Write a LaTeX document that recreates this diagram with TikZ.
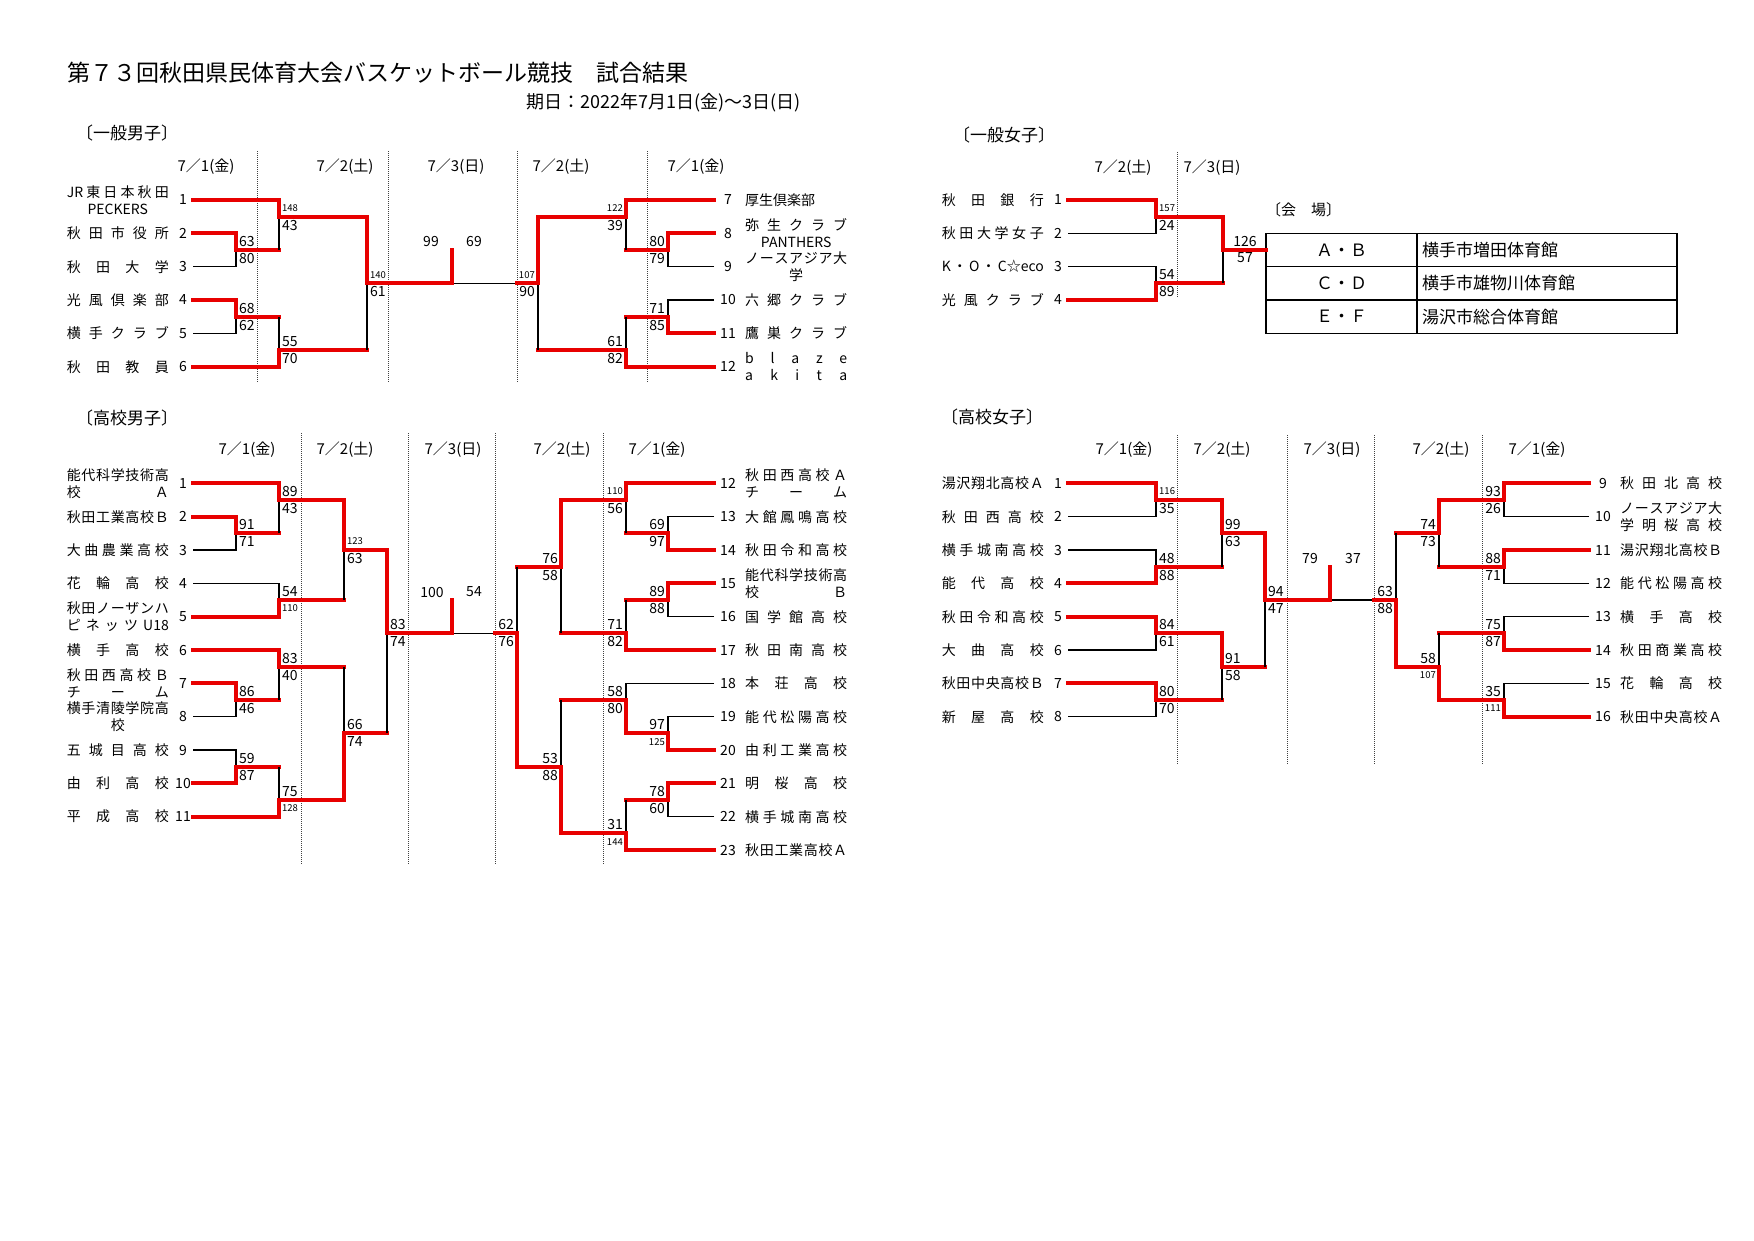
\documentclass[tikz,border=0pt]{standalone}
\usepackage{fontspec}
\setmainfont{Noto Sans CJK JP}
\usepackage{xcolor}
\usepackage{tikz}
\usetikzlibrary{positioning}
\definecolor{bracketred}{RGB}{232,0,0}
\newlength\namew
\setlength\namew{102pt}
% spread the letters of a name over the name column
\def\sprend{\sprend}
\newcommand\spr[1]{\sprA#1\sprend}
\def\sprA#1{#1\sprB}
\def\sprB#1{\def\sprtmp{#1}\ifx\sprtmp\sprend\else\hfill#1\expandafter\sprB\fi}
\newcommand\dl[1]{\makebox[\namew][s]{\spr{#1}}}
\newcommand\cl[1]{\makebox[\namew]{#1}}
\newcommand\sm[1]{{\fontsize{9.5}{10}\selectfont#1}}
\tikzset{
	teamname/.style={font=\fontsize{14}{17}\selectfont, inner sep=0pt, align=center},
	seed/.style={font=\fontsize{14}{14}\selectfont, inner sep=0pt},
	score/.style={font=\fontsize{14}{14}\selectfont, inner sep=0pt},
	dayhead/.style={font=\fontsize{15}{15}\selectfont, inner sep=0pt},
	section/.style={font=\fontsize{17}{17}\selectfont, inner sep=0pt, anchor=west},
	win/.style={draw=bracketred, line width=3.8pt, line cap=rect},
	lose/.style={draw=black, line width=1.3pt},
	daysep/.style={draw=black!75, line width=1pt, dash pattern=on 1pt off 1pt},
	venuekey/.style={draw, line width=1.5pt, minimum width=151pt, minimum height=33.33pt, inner sep=0pt, outer sep=0pt, font=\fontsize{17}{17}\selectfont},
	venuename/.style={draw, line width=1.5pt, minimum height=33.33pt, text width=250pt, inner xsep=5pt, inner ysep=0pt, outer sep=0pt, align=left, font=\fontsize{17}{17}\selectfont}
}
% team: id, seed x, y, seed, label
\newcommand\teamL[5]{\coordinate (#1) at (#2+10,#3);
	\node[seed] (#1s) at (#2,#3) {#4};
	\node[teamname, anchor=east] (#1n) at (#2-14,#3) {#5};}
\newcommand\teamR[5]{\coordinate (#1) at (#2-14,#3);
	\node[seed] (#1s) at (#2,#3) {#4};
	\node[teamname, anchor=west] (#1n) at (#2+17,#3) {#5};}
% bracket lines
\newcommand\won[2]{\draw[win] (#1) -| (#2);}
\newcommand\lost[2]{\draw[lose] (#1) -| (#2);}
\newcommand\lostm[2]{\draw[win] (#1) -- (#1 -| #2); \draw[lose] (#1 -| #2) -- (#2);}
% scores: match, upper, lower
\newcommand\scL[3]{\node[score, anchor=west] (#1u) at ([shift={(3pt,8.5pt)}]#1) {#2};
	\node[score, anchor=west] (#1d) at ([shift={(3pt,-8.5pt)}]#1) {#3};}
\newcommand\scR[3]{\node[score, anchor=east] (#1u) at ([shift={(-3pt,8.5pt)}]#1) {#2};
	\node[score, anchor=east] (#1d) at ([shift={(-3pt,-8.5pt)}]#1) {#3};}

\begin{document}
\begin{tikzpicture}[x=1pt, y=-1pt]
	\useasboundingbox (0,0) rectangle (1754,1240);
	
	\node[anchor=west, inner sep=0pt, font=\fontsize{23}{23}\selectfont] (title) at (67,73) {第７３回秋田県民体育大会バスケットボール競技　試合結果};
	\node[anchor=west, inner sep=0pt, font=\fontsize{18}{18}\selectfont] (period) at (526,103) {期日：2022年7月1日(金)～3日(日)};
	
	% 一般男子
	\node[section] (gmtitle) at (76,133) {〔一般男子〕};
	\foreach \x [count=\i] in {257,388,517,647} {\draw[daysep] (\x,151) coordinate (gmd\i) -- (\x,382);}
	\foreach \x/\dlab [count=\i] in {206/1(金),345/2(土),456/3(日),561/2(土),696/1(金)}
		\node[dayhead] (gmh\i) at (\x,167) {7／\dlab};
	\teamL{gm1}{183}{200}{1}{\dl{{JR}東日本秋田}\\\cl{PECKERS}}
	\teamL{gm2}{183}{233.3}{2}{\dl{秋田市役所}}
	\teamL{gm3}{183}{266.7}{3}{\dl{秋田大学}}
	\teamL{gm4}{183}{300}{4}{\dl{光風倶楽部}}
	\teamL{gm5}{183}{333.3}{5}{\dl{横手クラブ}}
	\teamL{gm6}{183}{366.7}{6}{\dl{秋田教員}}
	\teamR{gm7}{728}{200}{7}{\makebox[\namew][l]{厚生倶楽部}}
	\teamR{gm8}{728}{233.3}{8}{\dl{弥生クラブ}\\\cl{PANTHERS}}
	\teamR{gm9}{728}{266.7}{9}{\dl{ノースアジア大}\\\cl{学}}
	\teamR{gm10}{728}{300}{10}{\dl{六郷クラブ}}
	\teamR{gm11}{728}{333.3}{11}{\dl{鷹巣クラブ}}
	\teamR{gm12}{728}{366.7}{12}{\dl{blaze}\\\dl{akita}}
	\coordinate (gmA) at (236,250);
	\coordinate (gmB) at (236,316.7);
	\coordinate (gmC) at (279,216.7);
	\coordinate (gmD) at (279,350);
	\coordinate (gmE) at (367,283.3);
	\coordinate (gmF) at (668,250);
	\coordinate (gmG) at (668,316.7);
	\coordinate (gmH) at (626,216.7);
	\coordinate (gmI) at (626,350);
	\coordinate (gmJ) at (538,283.3);
	\coordinate (gmK) at (452,283.3);
	\coordinate (gmKt) at (452,250);
	\lost{gm3}{gmA} \lost{gm5}{gmB} \lostm{gmA}{gmC} \lostm{gmB}{gmD} \lostm{gmD}{gmE}
	\lost{gm9}{gmF} \lost{gm10}{gmG} \lostm{gmF}{gmH} \lostm{gmG}{gmI} \lostm{gmI}{gmJ}
	\draw[lose] (gmK) -- (gmJ);
	\won{gm2}{gmA} \won{gm4}{gmB} \won{gm1}{gmC} \won{gm6}{gmD} \won{gmC}{gmE}
	\won{gm8}{gmF} \won{gm11}{gmG} \won{gm7}{gmH} \won{gm12}{gmI} \won{gmH}{gmJ}
	\draw[win] (gmE) -- (gmK) -- (gmKt);
	\draw[win] (gmJ) -- (gmJ -| gmd3);
	\scL{gmA}{63}{80} \scL{gmB}{68}{62} \scL{gmC}{\sm{148}}{43} \scL{gmD}{55}{70} \scL{gmE}{\sm{140}}{61}
	\scR{gmF}{80}{79} \scR{gmG}{71}{85} \scR{gmH}{\sm{122}}{39} \scR{gmI}{61}{82} \scR{gmJ}{\sm{107}}{90}
	\node[score] (gmKa) at (431,242) {99};
	\node[score] (gmKb) at (474,242) {69};
	
	% 一般女子
	\node[section] (gwtitle) at (953,135) {〔一般女子〕};
	\draw[daysep] (1177,152) coordinate (gwd1) -- (1177,298);
	\node[dayhead] (gwh1) at (1123,168) {7／2(土)};
	\node[dayhead] (gwh2) at (1212,168) {7／3(日)};
	\teamL{gw1}{1058}{200}{1}{\dl{秋田銀行}}
	\teamL{gw2}{1058}{233.3}{2}{\dl{秋田大学女子}}
	\teamL{gw3}{1058}{266.7}{3}{\makebox[\namew][s]{K\hfill・\hfill O\hfill・\hfill C☆eco}}
	\teamL{gw4}{1058}{300}{4}{\dl{光風クラブ}}
	\coordinate (gwA) at (1156,216.7);
	\coordinate (gwB) at (1156,283.3);
	\coordinate (gwC) at (1223,250);
	
	% 会場
	\node[anchor=west, inner sep=0pt, font=\fontsize{15}{15}\selectfont] (venuetitle) at (1266,210) {〔会　場〕};
	\node[venuekey] (vab) at (1341.5,250) {Ａ・Ｂ};
	\node[venuekey, below=0pt of vab] (vcd) {Ｃ・Ｄ};
	\node[venuekey, below=0pt of vcd] (vef) {Ｅ・Ｆ};
	\node[venuename, right=0pt of vab] (vabn) {横手市増田体育館};
	\node[venuename, right=0pt of vcd] (vcdn) {横手市雄物川体育館};
	\node[venuename, right=0pt of vef] (vefn) {湯沢市総合体育館};
	
	\lost{gw2}{gwA} \lost{gw3}{gwB} \lostm{gwB}{gwC}
	\won{gw1}{gwA} \won{gw4}{gwB} \won{gwA}{gwC}
	\draw[win] (gwC) -- (vab.west);
	\scL{gwA}{\sm{157}}{24} \scL{gwB}{54}{89}
	\node[score] (gwCa) at (1245,242) {126};
	\node[score] (gwCb) at (1245,258) {57};
	
	% 高校男子
	\node[section] (hmtitle) at (76,418) {〔高校男子〕};
	\foreach \x [count=\i] in {301,408,495,603} {\draw[daysep] (\x,433) coordinate (hmd\i) -- (\x,865);}
	\foreach \x/\dlab [count=\i] in {247/1(金),345/2(土),453/3(日),562/2(土),657/1(金)}
		\node[dayhead] (hmh\i) at (\x,450) {7／\dlab};
	\teamL{hm1}{183}{483.3}{1}{\dl{能代科学技術高}\\\dl{校Ａ}}
	\teamL{hm2}{183}{516.7}{2}{\dl{秋田工業高校Ｂ}}
	\teamL{hm3}{183}{550}{3}{\dl{大曲農業高校}}
	\teamL{hm4}{183}{583.3}{4}{\dl{花輪高校}}
	\teamL{hm5}{183}{616.7}{5}{\dl{秋田ノーザンハ}\\\dl{ピネッツ{U18}}}
	\teamL{hm6}{183}{650}{6}{\dl{横手高校}}
	\teamL{hm7}{183}{683.3}{7}{\dl{秋田西高校Ｂ}\\\dl{チーム}}
	\teamL{hm8}{183}{716.7}{8}{\dl{横手清陵学院高}\\\cl{校}}
	\teamL{hm9}{183}{750}{9}{\dl{五城目高校}}
	\teamL{hm10}{183}{783.3}{10}{\dl{由利高校}}
	\teamL{hm11}{183}{816.7}{11}{\dl{平成高校}}
	\teamR{hm12}{728}{483.3}{12}{\dl{秋田西高校Ａ}\\\dl{チーム}}
	\teamR{hm13}{728}{516.7}{13}{\dl{大館鳳鳴高校}}
	\teamR{hm14}{728}{550}{14}{\dl{秋田令和高校}}
	\teamR{hm15}{728}{583.3}{15}{\dl{能代科学技術高}\\\dl{校Ｂ}}
	\teamR{hm16}{728}{616.7}{16}{\dl{国学館高校}}
	\teamR{hm17}{728}{650}{17}{\dl{秋田南高校}}
	\teamR{hm18}{728}{683.3}{18}{\dl{本荘高校}}
	\teamR{hm19}{728}{716.7}{19}{\dl{能代松陽高校}}
	\teamR{hm20}{728}{750}{20}{\dl{由利工業高校}}
	\teamR{hm21}{728}{783.3}{21}{\dl{明桜高校}}
	\teamR{hm22}{728}{816.7}{22}{\dl{横手城南高校}}
	\teamR{hm23}{728}{850}{23}{\dl{秋田工業高校Ａ}}
	\coordinate (hmA) at (236,533.3);
	\coordinate (hmB) at (279,500);
	\coordinate (hmC) at (279,600);
	\coordinate (hmD) at (344,550);
	\coordinate (hmE) at (236,700);
	\coordinate (hmF) at (279,666.7);
	\coordinate (hmG) at (236,766.7);
	\coordinate (hmH) at (279,800);
	\coordinate (hmI) at (344,733.3);
	\coordinate (hmJ) at (387,633.3);
	\coordinate (hmK) at (668,533.3);
	\coordinate (hmL) at (626,500);
	\coordinate (hmM) at (668,600);
	\coordinate (hmN) at (626,633.3);
	\coordinate (hmO) at (561,566.7);
	\coordinate (hmP) at (668,733.3);
	\coordinate (hmQ) at (626,700);
	\coordinate (hmR) at (668,800);
	\coordinate (hmS) at (626,833.3);
	\coordinate (hmU) at (561,766.7);
	\coordinate (hmV) at (517,633.3);
	\coordinate (hmW) at (452,633.3);
	\coordinate (hmWt) at (452,600);
	\lost{hm3}{hmA} \lostm{hmA}{hmB} \lost{hm4}{hmC} \lostm{hmC}{hmD} \lost{hm8}{hmE} \lostm{hmE}{hmF}
	\lost{hm9}{hmG} \lostm{hmG}{hmH} \lostm{hmF}{hmI} \lostm{hmI}{hmJ}
	\lost{hm13}{hmK} \lostm{hmK}{hmL} \lost{hm16}{hmM} \lostm{hmM}{hmN} \lostm{hmN}{hmO}
	\lost{hm19}{hmP} \lost{hm18}{hmQ} \lost{hm22}{hmR} \lostm{hmR}{hmS} \lostm{hmQ}{hmU} \lostm{hmO}{hmV}
	\draw[lose] (hmW) -- (hmV);
	\won{hm2}{hmA} \won{hm1}{hmB} \won{hm5}{hmC} \won{hmB}{hmD} \won{hm7}{hmE} \won{hm6}{hmF}
	\won{hm10}{hmG} \won{hm11}{hmH} \won{hmH}{hmI} \won{hmD}{hmJ}
	\won{hm14}{hmK} \won{hm12}{hmL} \won{hm15}{hmM} \won{hm17}{hmN} \won{hmL}{hmO}
	\won{hm20}{hmP} \won{hmP}{hmQ} \won{hm21}{hmR} \won{hm23}{hmS} \won{hmS}{hmU} \won{hmU}{hmV}
	\draw[win] (hmJ) -- (hmW) -- (hmWt);
	\draw[win] (hmV) -- (hmV -| hmd3);
	\scL{hmA}{91}{71} \scL{hmB}{89}{43} \scL{hmC}{54}{\sm{110}} \scL{hmD}{\sm{123}}{63} \scL{hmE}{86}{46}
	\scL{hmF}{83}{40} \scL{hmG}{59}{87} \scL{hmH}{75}{\sm{128}} \scL{hmI}{66}{74} \scL{hmJ}{83}{74}
	\scR{hmK}{69}{97} \scR{hmL}{\sm{110}}{56} \scR{hmM}{89}{88} \scR{hmN}{71}{82} \scR{hmO}{76}{58}
	\scR{hmP}{97}{\sm{125}} \scR{hmQ}{58}{80} \scR{hmR}{78}{60} \scR{hmS}{31}{\sm{144}} \scR{hmU}{53}{88} \scR{hmV}{62}{76}
	\node[score] (hmWa) at (432,592) {100};
	\node[score] (hmWb) at (474,592) {54};
	
	% 高校女子
	\node[section] (hwtitle) at (941,417) {〔高校女子〕};
	\foreach \x [count=\i] in {1177,1287,1374,1482} {\draw[daysep] (\x,435) coordinate (hwd\i) -- (\x,765);}
	\foreach \x/\dlab [count=\i] in {1124/1(金),1222/2(土),1332/3(日),1441/2(土),1537/1(金)}
		\node[dayhead] (hwh\i) at (\x,450) {7／\dlab};
	\teamL{hw1}{1058}{483.3}{1}{\dl{湯沢翔北高校Ａ}}
	\teamL{hw2}{1058}{516.7}{2}{\dl{秋田西高校}}
	\teamL{hw3}{1058}{550}{3}{\dl{横手城南高校}}
	\teamL{hw4}{1058}{583.3}{4}{\dl{能代高校}}
	\teamL{hw5}{1058}{616.7}{5}{\dl{秋田令和高校}}
	\teamL{hw6}{1058}{650}{6}{\dl{大曲高校}}
	\teamL{hw7}{1058}{683.3}{7}{\dl{秋田中央高校Ｂ}}
	\teamL{hw8}{1058}{716.7}{8}{\dl{新屋高校}}
	\teamR{hw9}{1603}{483.3}{9}{\dl{秋田北高校}}
	\teamR{hw10}{1603}{516.7}{10}{\dl{ノースアジア大}\\\dl{学明桜高校}}
	\teamR{hw11}{1603}{550}{11}{\dl{湯沢翔北高校Ｂ}}
	\teamR{hw12}{1603}{583.3}{12}{\dl{能代松陽高校}}
	\teamR{hw13}{1603}{616.7}{13}{\dl{横手高校}}
	\teamR{hw14}{1603}{650}{14}{\dl{秋田商業高校}}
	\teamR{hw15}{1603}{683.3}{15}{\dl{花輪高校}}
	\teamR{hw16}{1603}{716.7}{16}{\dl{秋田中央高校Ａ}}
	\coordinate (hwA) at (1156,500);
	\coordinate (hwB) at (1156,566.7);
	\coordinate (hwC) at (1156,633.3);
	\coordinate (hwD) at (1156,700);
	\coordinate (hwE) at (1222,533.3);
	\coordinate (hwF) at (1222,666.7);
	\coordinate (hwG) at (1265,600);
	\coordinate (hwH) at (1504,500);
	\coordinate (hwI) at (1504,566.7);
	\coordinate (hwJ) at (1504,633.3);
	\coordinate (hwK) at (1504,700);
	\coordinate (hwL) at (1439,533.3);
	\coordinate (hwM) at (1439,666.7);
	\coordinate (hwN) at (1396,600);
	\coordinate (hwP) at (1330,600);
	\coordinate (hwPt) at (1330,566.7);
	\lost{hw2}{hwA} \lost{hw3}{hwB} \lost{hw6}{hwC} \lost{hw8}{hwD} \lostm{hwB}{hwE} \lostm{hwD}{hwF} \lostm{hwF}{hwG}
	\lost{hw10}{hwH} \lost{hw12}{hwI} \lost{hw13}{hwJ} \lost{hw15}{hwK} \lostm{hwI}{hwL} \lostm{hwJ}{hwM} \lostm{hwL}{hwN}
	\draw[lose] (hwP) -- (hwN);
	\won{hw1}{hwA} \won{hw4}{hwB} \won{hw5}{hwC} \won{hw7}{hwD} \won{hwA}{hwE} \won{hwC}{hwF} \won{hwE}{hwG}
	\won{hw9}{hwH} \won{hw11}{hwI} \won{hw14}{hwJ} \won{hw16}{hwK} \won{hwH}{hwL} \won{hwK}{hwM} \won{hwM}{hwN}
	\draw[win] (hwG) -- (hwP) -- (hwPt);
	\draw[win] (hwN) -- (hwN -| hwd3);
	\scL{hwA}{\sm{116}}{35} \scL{hwB}{48}{88} \scL{hwC}{84}{61} \scL{hwD}{80}{70}
	\scL{hwE}{99}{63} \scL{hwF}{91}{58} \scL{hwG}{94}{47}
	\scR{hwH}{93}{26} \scR{hwI}{88}{71} \scR{hwJ}{75}{87} \scR{hwK}{35}{\sm{111}}
	\scR{hwL}{74}{73} \scR{hwM}{58}{\sm{107}} \scR{hwN}{63}{88}
	\node[score] (hwPa) at (1310,558) {79};
	\node[score] (hwPb) at (1353,558) {37};
\end{tikzpicture}
\end{document}
